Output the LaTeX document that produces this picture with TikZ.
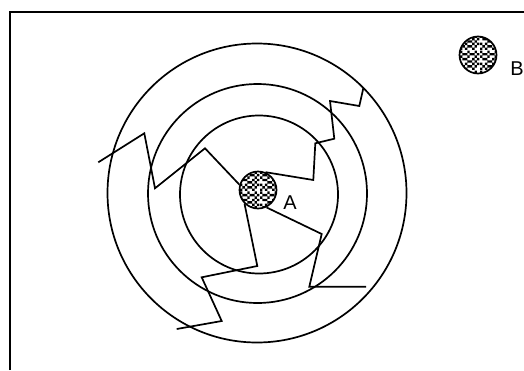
\documentclass[tikz,border=0pt]{standalone}
\usepackage{fontspec}
\setmainfont{Liberation Sans}
\usetikzlibrary{patterns}
\pgfdeclarepatternformonly{noisy}{\pgfpointorigin}{\pgfpoint{20pt}{20pt}}{\pgfpoint{20pt}{20pt}}{%
  \foreach \r/\cs in {0/{0,2,5},1/{1,3,4,6},2/{0,2,5,7},3/{3,4,6},4/{1,2,5,7},5/{0,3,6},6/{1,2,4,5,7},7/{0,3,6}}{%
    \foreach \c in \cs {%
      \pgfpathrectangle{\pgfpoint{2.5*\c pt}{2.5*\r pt}}{\pgfpoint{2.5pt}{2.5pt}}%
    }%
  }%
  \pgfusepath{fill}%
}
\tikzset{
  ring/.style={draw, line width=1.7pt},
  zig/.style={draw, line width=1.7pt, line join=miter},
  particle/.style={circle, draw, line width=1.7pt, pattern=noisy, minimum size=37pt, inner sep=0pt},
  lbl/.style={font=\fontsize{20}{24}\selectfont, inner sep=0pt}
}
\begin{document}
\begin{tikzpicture}[x=1pt,y=-1pt]
\useasboundingbox (0,0) rectangle (524,370);
% frame
\coordinate (f1) at (10,370);
\coordinate (f2) at (10,12);
\coordinate (f3) at (524,12);
\draw[line width=2pt] (f1) -- (f2) -- (f3);
% rings
\draw[ring] (257,193) circle[radius=149.5];
\draw[ring] (257.5,193.5) circle[radius=109.5];
\draw[ring] (259,194.5) circle[radius=79];
% particles
\node[particle] (a) at (258,190) {};
\node[particle] (b) at (478,55) {};
\node[lbl] (la) at (290,203) {A};
\node[lbl] (lb) at (517,69) {B};
% zigzag paths
\draw[zig] (a.164) -- (205,148.3) -- (155,188.3) -- (144.3,133.3) -- (98.3,162.3);
\draw[zig] (a.67) -- (313.3,180) -- (315.3,143.3) -- (334.3,138.7) -- (330,101) -- (359.3,106) -- (363.3,88.3);
\draw[zig] (a.226) -- (257.3,266) -- (201.7,277.3) -- (221.7,321) -- (176.7,329);
\draw[zig] (a.-64) -- (321.7,234) -- (309.3,286.7) -- (366,286.7);
\end{tikzpicture}
\end{document}
